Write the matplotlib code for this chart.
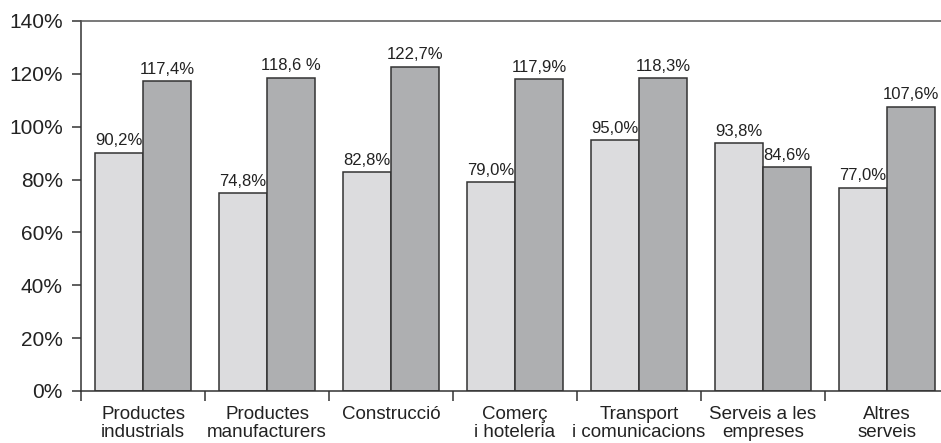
import numpy as np
import matplotlib.pyplot as plt

# Dades per sector
sectors = ["Productes\nindustrials", "Productes\nmanufacturers", "Construcció",
           "Comerç\ni hoteleria", "Transport\ni comunicacions", "Serveis a les\nempreses",
           "Altres\nserveis"]
serie_a = [90.2, 74.8, 82.8, 79.0, 95.0, 93.8, 77.0]
serie_b = [117.4, 118.6, 122.7, 117.9, 118.3, 84.6, 107.6]
etiq_a = ["90,2%", "74,8%", "82,8%", "79,0%", "95,0%", "93,8%", "77,0%"]
etiq_b = ["117,4%", "118,6 %", "122,7%", "117,9%", "118,3%", "84,6%", "107,6%"]
yticks = [0, 20, 40, 60, 80, 100, 120, 140]

plt.rcParams['font.family'] = ['Liberation Sans', 'DejaVu Sans']
text_color = '#222222'

fig = plt.figure(figsize=(9.41, 4.43), dpi=100)
ax = fig.add_axes([81 / 941, 1 - 391 / 443, 860 / 941, 370 / 443])

x = np.arange(len(sectors))
w = 0.387
ba = ax.bar(x - w / 2, serie_a, w, color='#dcdcde', edgecolor='#333333', linewidth=1.1)
bb = ax.bar(x + w / 2, serie_b, w, color='#aeafb1', edgecolor='#333333', linewidth=1.1)

for rect, txt in zip(ba, etiq_a):
    ax.text(rect.get_x() + rect.get_width() / 2, rect.get_height() + 1.6, txt,
            ha='center', va='bottom', fontsize=12, color=text_color)
for rect, txt in zip(bb, etiq_b):
    ax.text(rect.get_x() + rect.get_width() / 2, rect.get_height() + 1.6, txt,
            ha='center', va='bottom', fontsize=12, color=text_color)

ax.set_xlim(-0.5, 6.435)
ax.set_ylim(0, 140)
ax.set_yticks(yticks)
ax.set_yticklabels([f"{v}%" for v in yticks], fontsize=15, color=text_color)
ax.tick_params(axis='y', length=6.5, width=1.1, color='#333333', pad=6.5)

ax.set_xticks(x)
ax.set_xticklabels(sectors, fontsize=13.5, color=text_color, linespacing=1.05)
ax.tick_params(axis='x', which='major', length=0, pad=11)
ax.set_xticks(np.arange(-0.5, 6, 1), minor=True)
ax.tick_params(axis='x', which='minor', length=7.5, width=1.1, color='#333333')

ax.spines['right'].set_visible(False)
ax.spines['left'].set_color('#333333')
ax.spines['bottom'].set_color('#333333')
ax.spines['top'].set_color('#555555')
for s in ['left', 'bottom', 'top']:
    ax.spines[s].set_linewidth(1.1)

fig.savefig('out.png', dpi=100)
